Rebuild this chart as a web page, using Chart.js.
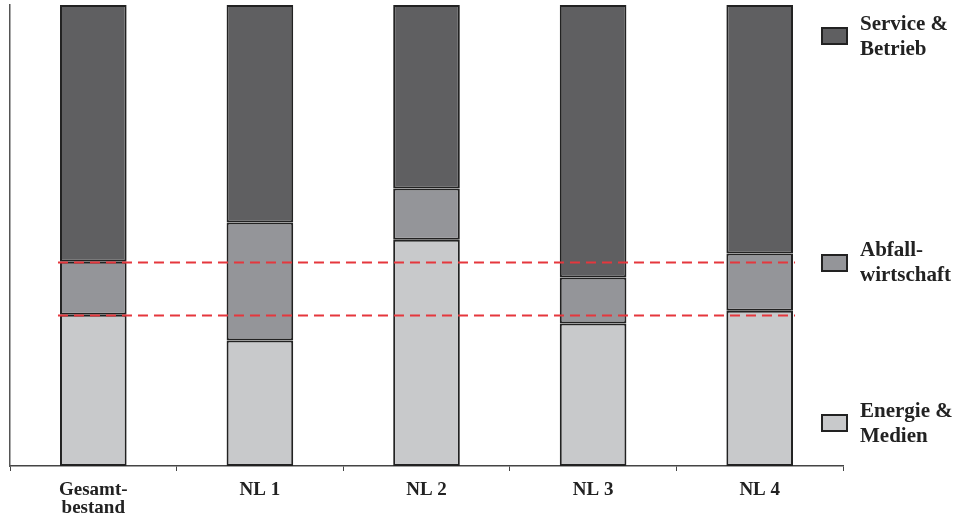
<!DOCTYPE html>
<html>
<head>
<meta charset="utf-8">
<script src="https://cdn.jsdelivr.net/npm/chart.js@4/dist/chart.umd.min.js"></script>
<style>
  html, body { margin: 0; padding: 0; background: #fff; }
  #wrap { position: relative; width: 960px; height: 518px; }
  #c { position: absolute; left: 0; top: 0; }
  .lg { position: absolute; left: 821px; }
  .box { position: absolute; left: 0; width: 23px; height: 14px; border: 2px solid #222; }
  .txt { position: absolute; left: 39px; font: bold 21px "Liberation Serif", "Times New Roman", serif; color: #222; line-height: 25px; white-space: nowrap; }
</style>
</head>
<body>
<div id="wrap">
  <canvas id="c" width="960" height="518"></canvas>
</div>
<script>
const categories = [['Gesamt-', 'bestand'], 'NL 1', 'NL 2', 'NL 3', 'NL 4'];
const seriesNames = ['Energie & Medien', 'Abfallwirtschaft', 'Service & Betrieb'];
const energieMedien   = [32.8, 27.2, 49.1, 30.9, 33.7];
const abfallwirtschaft = [11.5, 25.6, 11.1, 10.0, 12.4];
const serviceBetrieb  = [55.7, 47.2, 39.8, 59.1, 53.9];
const legendLines = [['Service &', 'Betrieb'], ['Abfall-', 'wirtschaft'], ['Energie &', 'Medien']];
const colors = ['#c8c9cb', '#949599', '#5f5f61'];

// reference lines at the boundaries of the first category (Gesamtbestand)
const refLines = [energieMedien[0], energieMedien[0] + abfallwirtschaft[0]];

const refLinePlugin = {
  id: 'refLines',
  afterDatasetsDraw(chart) {
    const { ctx, scales: { y } } = chart;
    const meta = chart.getDatasetMeta(0);
    const first = meta.data[0], last = meta.data[meta.data.length - 1];
    const x0 = first.x - first.width / 2 - 2;
    const x1 = last.x + last.width / 2 + 2;
    ctx.save();
    ctx.strokeStyle = '#e5373d';
    ctx.lineWidth = 2;
    ctx.setLineDash([10, 6]);
    refLines.forEach(v => {
      const py = Math.round(y.getPixelForValue(v)) + 0.5;
      ctx.beginPath();
      ctx.moveTo(x0, py);
      ctx.lineTo(x1, py);
      ctx.stroke();
    });
    ctx.restore();
  }
};

const mkDs = (label, data, color) => ({
  label, data,
  backgroundColor: color,
  borderColor: '#222',
  borderWidth: 2,
  borderSkipped: false,
  barPercentage: 0.4,
  categoryPercentage: 1.0
});

new Chart(document.getElementById('c'), {
  type: 'bar',
  data: {
    labels: categories,
    datasets: [
      mkDs(seriesNames[0], energieMedien, colors[0]),
      mkDs(seriesNames[1], abfallwirtschaft, colors[1]),
      mkDs(seriesNames[2], serviceBetrieb, colors[2])
    ]
  },
  options: {
    responsive: false,
    animation: false,
    layout: { padding: { left: 10, right: 117, top: 5, bottom: 0 } },
    plugins: { legend: { display: false }, tooltip: { enabled: false } },
    scales: {
      x: {
        stacked: true,
        offset: true,
        afterFit(scale) { scale.height = 52; },
        grid: { display: true, drawOnChartArea: false, drawTicks: true, tickLength: 5, color: '#444', offset: true },
        border: { display: true, color: '#444', width: 1.5 },
        ticks: { color: '#222', padding: 10, font: { family: 'Liberation Serif', size: 19, weight: 'bold', lineHeight: 0.95 }, maxRotation: 0 }
      },
      y: {
        stacked: true,
        min: 0, max: 100,
        grid: { display: false, drawTicks: false },
        border: { display: true, color: '#555', width: 1.5 },
        ticks: { display: false }
      }
    }
  },
  plugins: [refLinePlugin]
});

// HTML legend (real text)
const legendTops = [{ box: 27, txt: 11 }, { box: 254, txt: 237 }, { box: 414, txt: 398 }];
const legendColors = [colors[2], colors[1], colors[0]];
const wrap = document.getElementById('wrap');
legendLines.forEach((lines, i) => {
  const box = document.createElement('div');
  box.className = 'lg box';
  box.style.left = '821px';
  box.style.top = legendTops[i].box + 'px';
  box.style.background = legendColors[i];
  wrap.appendChild(box);
  const t = document.createElement('div');
  t.className = 'txt';
  t.style.left = '860px';
  t.style.top = legendTops[i].txt + 'px';
  t.innerHTML = lines.join('<br>');
  wrap.appendChild(t);
});
</script>
</body>
</html>
